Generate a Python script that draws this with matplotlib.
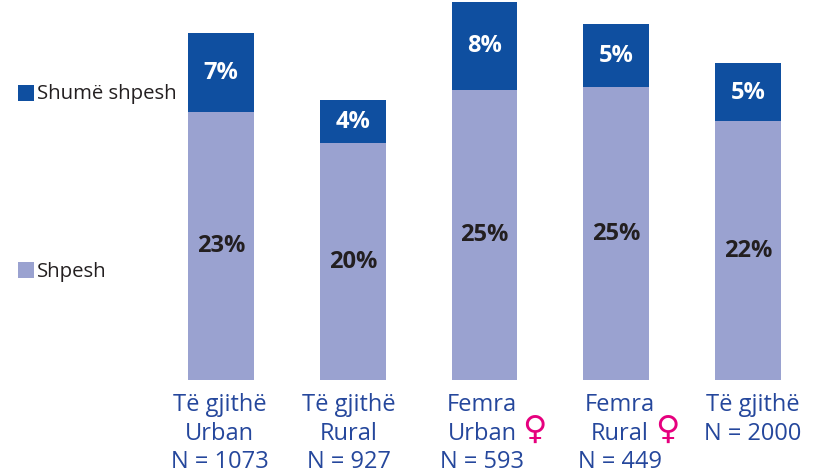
import matplotlib
matplotlib.use("Agg")
import matplotlib.pyplot as plt
from matplotlib.patches import Rectangle

plt.rcParams['font.family'] = ['Open Sans', 'DejaVu Sans']

line1 = ["Të gjithë", "Të gjithë", "Femra", "Femra", "Të gjithë"]
line2 = ["Urban", "Rural", "Urban", "Rural", "N = 2000"]
line3 = ["N = 1073", "N = 927", "N = 593", "N = 449", ""]
female = [False, False, True, True, False]
shpesh = [23.1, 20.4, 25.0, 25.3, 22.3]
shume = [6.8, 3.7, 7.6, 5.4, 5.0]
shpesh_labels = ["23%", "20%", "25%", "25%", "22%"]
shume_labels = ["7%", "4%", "8%", "5%", "5%"]
legend_names = ["Shumë shpesh", "Shpesh"]

W, H = 821, 469
LIGHT, DARK, TXT, PINK, BLK = "#9aa2d0", "#0f4fa0", "#25479c", "#e6007e", "#231f20"
label_cx = [219.5, 349, 482, 620, 752.5]
symbol_cx = [None, None, 534, 667, None]

fig = plt.figure(figsize=(W/100, H/100), dpi=100, facecolor="white")
ax = fig.add_axes([0, (H-380)/H, 1, 380/H])
ax.set_xlim(-221/131.75, (W-221)/131.75)
ax.set_ylim(0, 380/11.6)
ax.axis("off")

xs = list(range(len(shpesh)))
ax.bar(xs, shpesh, width=0.5, color=LIGHT, linewidth=0)
ax.bar(xs, shume, width=0.5, bottom=shpesh, color=DARK, linewidth=0)

for x, a, b, la, lb in zip(xs, shpesh, shume, shpesh_labels, shume_labels):
    ax.text(x, a/2 - 0.03, la, ha="center", va="center", fontsize=17, fontweight="bold", color=BLK)
    ax.text(x, a + b/2 - 0.05, lb, ha="center", va="center", fontsize=17, fontweight="bold", color="white")

def px(x, y, s, **kw):
    fig.text(x/W, 1 - y/H, s, **kw)

for cx, l1, l2, l3, sx in zip(label_cx, line1, line2, line3, symbol_cx):
    px(cx, 411, l1, ha="center", va="baseline", fontsize=17, color=TXT)
    px(cx, 439.5, l2, ha="center", va="baseline", fontsize=17, color=TXT)
    px(cx, 468, l3, ha="center", va="baseline", fontsize=17, color=TXT)
    if sx is not None:
        px(sx, 429, "♀", ha="center", va="center", fontsize=24, color=PINK, family="DejaVu Sans")

fig.add_artist(Rectangle((18/W, 1-101/H), 16/W, 16/H, transform=fig.transFigure, color=DARK, lw=0))
fig.add_artist(Rectangle((18/W, 1-278/H), 16/W, 16/H, transform=fig.transFigure, color=LIGHT, lw=0))
px(36.5, 99, legend_names[0], ha="left", va="baseline", fontsize=14.7, color=BLK)
px(36.5, 277, legend_names[1], ha="left", va="baseline", fontsize=14.7, color=BLK)

fig.savefig("out.png", dpi=100)
